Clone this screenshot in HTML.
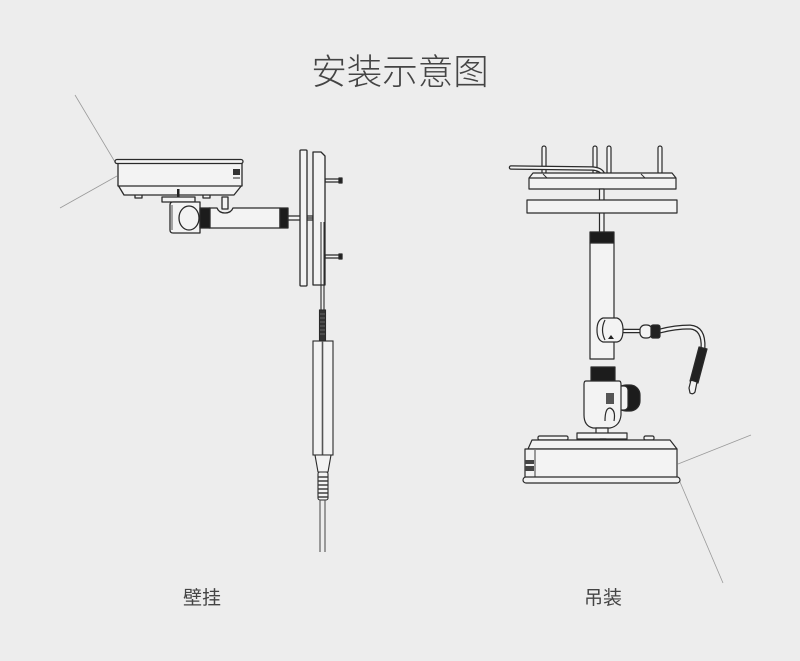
<!DOCTYPE html>
<html>
<head>
<meta charset="utf-8">
<style>
html,body{margin:0;padding:0;background:#ededed;}
body{width:800px;height:661px;overflow:hidden;}
svg{display:block;}
text{font-family:"Liberation Sans","Noto Sans CJK SC",sans-serif;fill:#444;}
</style>
</head>
<body>
<svg width="800" height="661" viewBox="0 0 800 661" xmlns="http://www.w3.org/2000/svg">
<rect x="0" y="0" width="800" height="661" fill="#ededed"/>
<text x="400" y="84" font-size="35.5" text-anchor="middle" style="font-weight:300">安装示意图</text>
<text x="202" y="604" font-size="19" text-anchor="middle">壁挂</text>
<text x="603" y="604" font-size="19" text-anchor="middle">吊装</text>

<!-- ============ LEFT: wall mount ============ -->
<g stroke="#9a9a9a" stroke-width="0.8">
  <line x1="75" y1="95" x2="115" y2="162"/>
  <line x1="60" y1="208" x2="117" y2="176"/>
</g>
<g stroke="#2a2a2a" stroke-width="1.3" fill="#f3f3f3" stroke-linejoin="round">
  <rect x="135" y="194" width="7" height="4"/>
  <rect x="203" y="194" width="7" height="4"/>
  <path d="M118 185 L124 195 L234 195 L242 185 Z"/>
  <rect x="118" y="163" width="124" height="23"/>
  <rect x="115" y="159.5" width="128" height="4" rx="2"/>
  <rect x="233" y="169" width="7" height="6" fill="#333" stroke="none"/>
  <line x1="233" y1="178" x2="240" y2="178" stroke-width="1"/>
  <rect x="177" y="189" width="2.5" height="8" fill="#222" stroke="none"/>
  <rect x="162" y="197" width="33" height="5"/>
  <rect x="222" y="197" width="6" height="12"/>
  <path d="M209 208 L217 208 Q219 213 225 213 Q231 213 233 208 L280 208 L280 228 L209 228 Z"/>
  <path d="M173 202 L200 202 L200 233 L173 233 Q170 233 170 230 L170 205 Q170 202 173 202 Z"/>
  <line x1="172" y1="205" x2="172" y2="230" stroke-width="0.8"/>
  <ellipse cx="189" cy="218" rx="10" ry="12"/>
  <rect x="200" y="208" width="10" height="20" fill="#1c1c1c"/>
  <rect x="280" y="208" width="8" height="20" fill="#1c1c1c"/>
  <rect x="288" y="216" width="25" height="4"/>
  <rect x="325" y="179" width="15" height="3"/>
  <rect x="339" y="178" width="3" height="5" fill="#222"/>
  <rect x="325" y="255" width="15" height="3"/>
  <rect x="339" y="254" width="3" height="5" fill="#222"/>
  <rect x="300" y="150" width="7" height="136" rx="1"/>
  <path d="M313 152 L321 152 L325 156 L325 285 L313 285 Z"/>
  <line x1="307" y1="218" x2="313" y2="218"/>
  <line x1="321" y1="222" x2="321" y2="285" stroke-width="1"/>
  <line x1="324" y1="222" x2="324" y2="285" stroke-width="1"/>
</g>
<g stroke="#2a2a2a" stroke-width="1.1" fill="#f3f3f3">
  <line x1="321" y1="285" x2="321" y2="312"/>
  <line x1="324" y1="285" x2="324" y2="312"/>
  <rect x="319.5" y="310" width="6" height="31" fill="#333"/>
  <g stroke="#888" stroke-width="0.6">
    <line x1="320" y1="314" x2="325" y2="314"/><line x1="320" y1="318" x2="325" y2="318"/>
    <line x1="320" y1="322" x2="325" y2="322"/><line x1="320" y1="326" x2="325" y2="326"/>
    <line x1="320" y1="330" x2="325" y2="330"/><line x1="320" y1="334" x2="325" y2="334"/>
  </g>
  <rect x="313" y="341" width="20" height="114"/>
  <line x1="322.5" y1="341" x2="322.5" y2="455" stroke="#555" stroke-width="1.6"/>
  <path d="M315 455 L318 472 L328 472 L331 455 Z"/>
  <rect x="318" y="472" width="10" height="28" rx="2"/>
  <g stroke="#333" stroke-width="1.4">
    <line x1="318" y1="477" x2="328" y2="477"/><line x1="318" y1="481" x2="328" y2="481"/>
    <line x1="318" y1="485" x2="328" y2="485"/><line x1="318" y1="489" x2="328" y2="489"/>
    <line x1="318" y1="493" x2="328" y2="493"/><line x1="318" y1="497" x2="328" y2="497"/>
  </g>
  <line x1="320" y1="500" x2="320" y2="552" stroke="#555"/>
  <line x1="325" y1="500" x2="325" y2="552" stroke="#555"/>
</g>

<!-- ============ RIGHT: ceiling mount ============ -->
<g stroke="#2a2a2a" stroke-width="1.2" fill="#f3f3f3" stroke-linejoin="round">
  <rect x="542" y="146" width="4" height="28" rx="2"/>
  <rect x="593" y="146" width="4" height="28" rx="2"/>
  <rect x="607" y="146" width="4" height="28" rx="2"/>
  <rect x="658" y="146" width="4" height="28" rx="2"/>
  <path d="M511 167.5 L592 168.5 Q601 169 603 174" fill="none" stroke="#2a2a2a" stroke-width="4.5" stroke-linecap="round"/>
  <path d="M511 167.5 L592 168.5 Q601 169 603 174" fill="none" stroke="#f3f3f3" stroke-width="2" stroke-linecap="round"/>
  <path d="M533 173 L672 173 L676 178 L676 189 L529 189 L529 178 Z"/>
  <line x1="529" y1="178" x2="676" y2="178"/>
  <line x1="543" y1="174" x2="547" y2="178" stroke-width="0.9"/>
  <line x1="641" y1="174" x2="645" y2="178" stroke-width="0.9"/>
  <rect x="599.5" y="189" width="4.5" height="44"/>
  <rect x="527" y="200" width="150" height="13"/>
  <rect x="590" y="232" width="24" height="11" fill="#1c1c1c"/>
  <rect x="590" y="243" width="24" height="116"/>
  <path d="M622 331 L641 331" stroke="#2a2a2a" stroke-width="4.5" fill="none"/>
  <path d="M622 331 L641 331" stroke="#f3f3f3" stroke-width="2" fill="none"/>
  <path d="M660 331 Q675 327 690 327 Q704 328 703 348" stroke="#2a2a2a" stroke-width="5" fill="none"/>
  <path d="M660 331 Q675 327 690 327 Q704 328 703 348" stroke="#f3f3f3" stroke-width="2.5" fill="none"/>
  <path d="M603 318 L617 318 Q623 320 623 330 Q623 341 617 342 L603 342 Q597 340 597 330 Q597 320 603 318 Z"/>
  <path d="M605 320 Q600 330 605 340" fill="none"/>
  <path d="M611 335 L614 339 L608 339 Z" fill="#222" stroke="none"/>
  <rect x="640" y="325" width="12" height="13" rx="5"/>
  <rect x="651" y="325" width="9" height="13" rx="2" fill="#222"/>
  <path d="M699 347 L707 349 L698 383 L690 381 Z" fill="#222"/>
  <path d="M691 380 L697 382 L695 392 Q693 395 690 393 L689 388 Z" fill="#f3f3f3"/>
  <rect x="591" y="367" width="24" height="14" fill="#1c1c1c"/>
  <rect x="616" y="385" width="24" height="26" rx="10" fill="#1c1c1c"/>
  <rect x="616" y="386" width="12" height="24" rx="4"/>
  <path d="M586 381 L619 381 Q621 381 621 384 L621 415 Q620 426 610 428 L593 428 Q584 426 584 415 L584 384 Q584 381 586 381 Z"/>
  <rect x="606" y="393" width="8" height="11" fill="#555" stroke="none"/>
  <path d="M605 421 Q605 408 610 408 Q616 410 614 421" fill="none"/>
  <rect x="596" y="428" width="12" height="6"/>
  <rect x="577" y="433" width="50" height="6"/>
  <rect x="600" y="439" width="6" height="9" fill="#1c1c1c"/>
  <rect x="538" y="436" width="30" height="4" rx="1.5"/>
  <rect x="644" y="436" width="10" height="4" rx="1.5"/>
  <path d="M528 449 L532 440 L670 440 L677 449 Z"/>
  <rect x="525" y="449" width="152" height="29"/>
  <line x1="535" y1="450" x2="535" y2="477" stroke-width="0.9"/>
  <rect x="523" y="477" width="157" height="6" rx="3"/>
  <rect x="525" y="460" width="9" height="4" fill="#444" stroke="none"/>
  <rect x="525" y="466" width="9" height="5" fill="#444" stroke="none"/>
</g>
<g stroke="#9a9a9a" stroke-width="0.8">
  <line x1="678" y1="464" x2="751" y2="435"/>
  <line x1="680" y1="482" x2="723" y2="583"/>
</g>
</svg>
</body>
</html>
